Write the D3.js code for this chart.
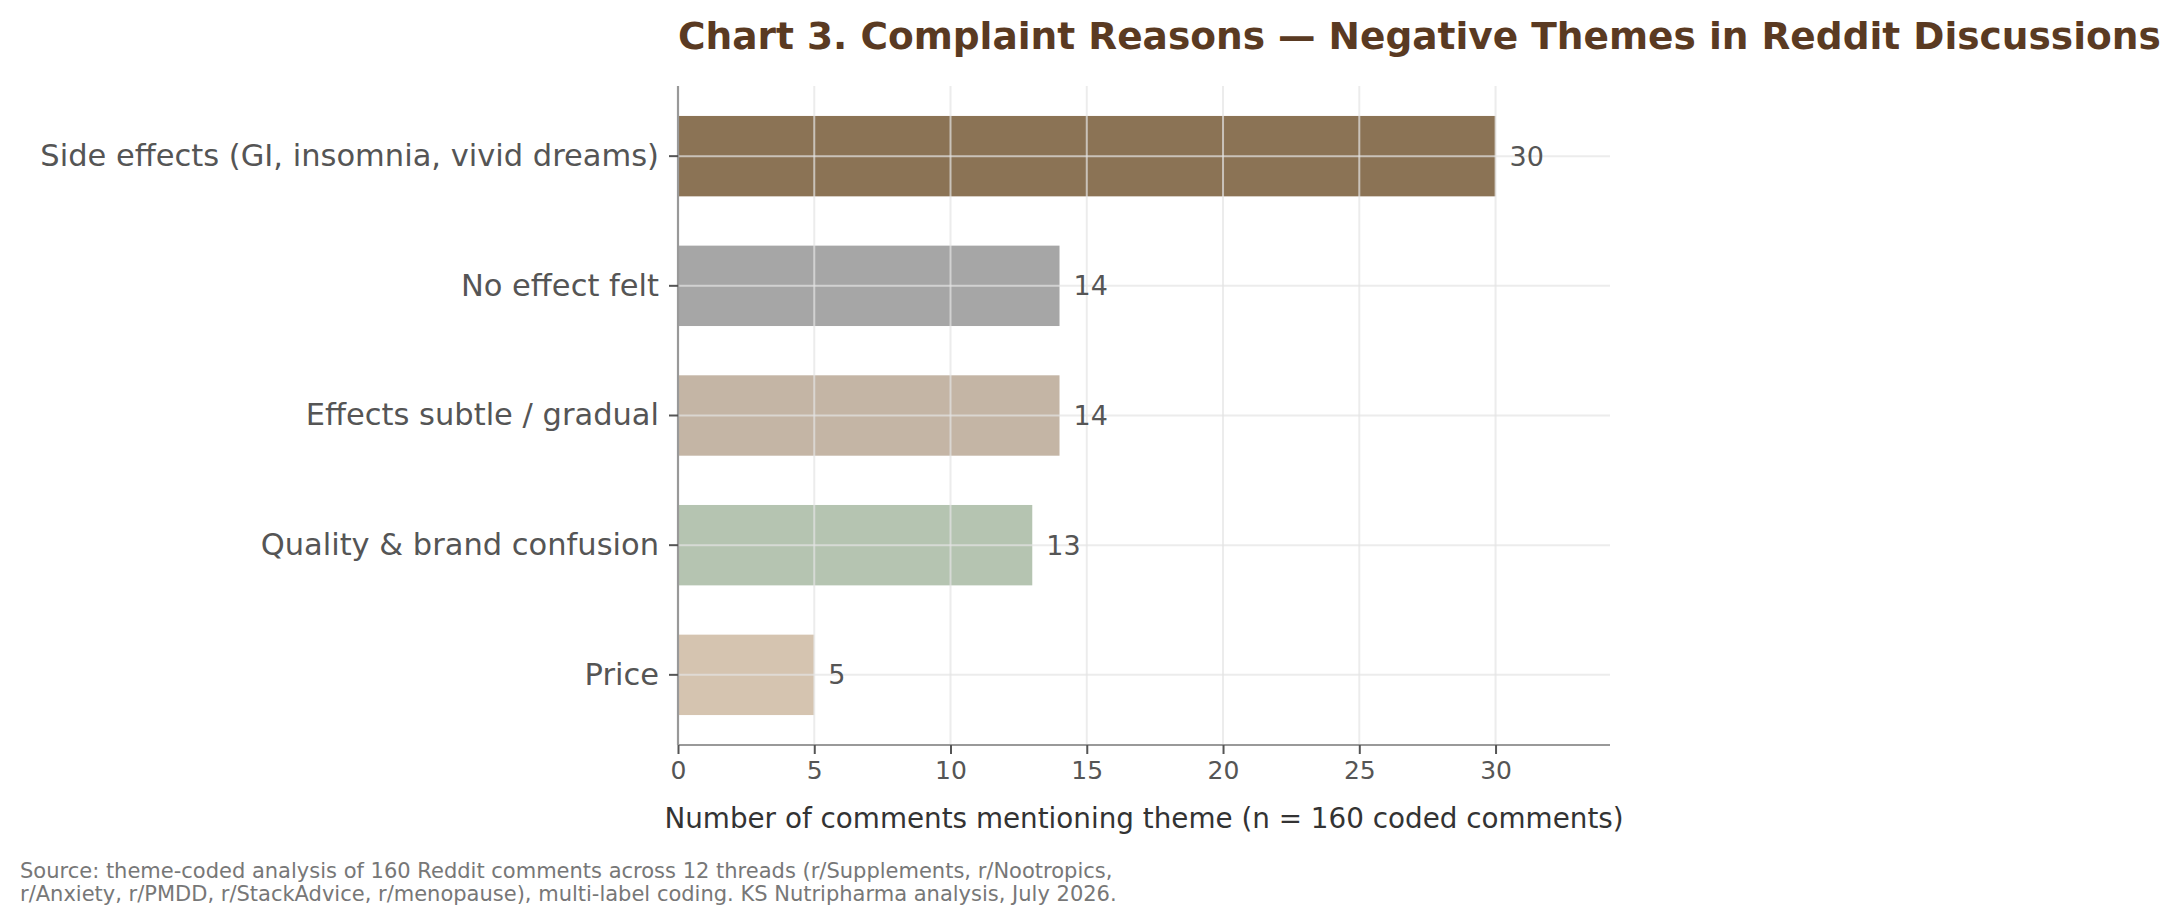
<!DOCTYPE html>
<html>
<head>
<meta charset="utf-8">
<script src="https://cdn.jsdelivr.net/npm/d3@7"></script>
<style>
  body { margin: 0; background: #fff; }
  text { font-family: "DejaVu Sans", sans-serif; }
</style>
</head>
<body>
<div id="chart"></div>
<script>
// data
const themes = [
  "Side effects (GI, insomnia, vivid dreams)",
  "No effect felt",
  "Effects subtle / gradual",
  "Quality & brand confusion",
  "Price"
];
const counts = [30, 14, 14, 13, 5];
const barColors = ["#8b7355", "#a6a6a6", "#c4b5a5", "#b5c4b1", "#d5c4b0"];
const xTicks = [0, 5, 10, 15, 20, 25, 30];

const W = 2180, H = 924;
const margin = {top: 86, right: 570, bottom: 179, left: 678};
const width = W - margin.left - margin.right,
      height = H - margin.top - margin.bottom;

const svg = d3.select("#chart")
  .append("svg")
  .attr("width", W)
  .attr("height", H);

const g = svg.append("g")
  .attr("transform", `translate(${margin.left},${margin.top})`);

const x = d3.scaleLinear()
  .domain([0, d3.max(counts) * 1.14])
  .range([0, width]);

const y = d3.scaleBand()
  .domain(themes)
  .range([0, height])
  .paddingInner(0.38)
  .paddingOuter(0.231);

// bars
g.selectAll("rect.bar")
  .data(themes)
  .join("rect")
  .attr("class", "bar")
  .attr("x", x(0))
  .attr("y", d => y(d))
  .attr("width", (d, i) => x(counts[i]) - x(0))
  .attr("height", y.bandwidth())
  .attr("fill", (d, i) => barColors[i]);

// grid drawn above bars
g.selectAll("line.vgrid")
  .data(xTicks)
  .join("line")
  .attr("class", "vgrid")
  .attr("x1", d => x(d)).attr("x2", d => x(d))
  .attr("y1", 0).attr("y2", height)
  .attr("stroke", "#e4e4e4")
  .attr("stroke-opacity", 0.7)
  .attr("stroke-width", 2);

g.selectAll("line.hgrid")
  .data(themes)
  .join("line")
  .attr("class", "hgrid")
  .attr("x1", 0).attr("x2", width)
  .attr("y1", d => y(d) + y.bandwidth() / 2)
  .attr("y2", d => y(d) + y.bandwidth() / 2)
  .attr("stroke", "#e4e4e4")
  .attr("stroke-opacity", 0.7)
  .attr("stroke-width", 2);

// value labels
g.selectAll("text.val")
  .data(themes)
  .join("text")
  .attr("class", "val")
  .attr("x", (d, i) => x(counts[i]) + 14)
  .attr("y", d => y(d) + y.bandwidth() / 2)
  .attr("dy", "0.35em")
  .attr("fill", "#555")
  .style("font-size", "27px")
  .text((d, i) => counts[i]);

// axes
const xAxis = g.append("g")
  .attr("transform", `translate(0,${height})`)
  .call(d3.axisBottom(x).tickValues(xTicks).tickSize(9).tickPadding(7));
const yAxis = g.append("g")
  .call(d3.axisLeft(y).tickSize(9).tickPadding(10));

[xAxis, yAxis].forEach(a => {
  a.select(".domain").attr("stroke", "#999").attr("stroke-width", 2.2);
  a.selectAll(".tick line").attr("stroke", "#555").attr("stroke-width", 2);
  a.selectAll(".tick text").attr("fill", "#555").style("font-family", "DejaVu Sans");
});
xAxis.selectAll(".tick text").style("font-size", "25px");
yAxis.selectAll(".tick text").style("font-size", "30.5px");
// hide the outer tick ends of the domain paths
xAxis.select(".domain").attr("d", `M0,0H${width}`);
yAxis.select(".domain").attr("d", `M0,0V${height}`);

// x label
g.append("text")
  .attr("x", width / 2)
  .attr("y", height + 83)
  .attr("text-anchor", "middle")
  .attr("fill", "#333")
  .style("font-size", "27.8px")
  .text("Number of comments mentioning theme (n = 160 coded comments)");

// title
svg.append("text")
  .attr("x", margin.left)
  .attr("y", 49)
  .attr("fill", "#5a3a22")
  .style("font-size", "37.5px")
  .style("font-weight", "bold")
  .text("Chart 3. Complaint Reasons \u2014 Negative Themes in Reddit Discussions");

// source note
const src = svg.append("text")
  .attr("x", 20)
  .attr("y", 878)
  .attr("fill", "#777")
  .style("font-size", "21px");
src.append("tspan").attr("x", 20).text("Source: theme-coded analysis of 160 Reddit comments across 12 threads (r/Supplements, r/Nootropics,");
src.append("tspan").attr("x", 20).attr("dy", 23).text("r/Anxiety, r/PMDD, r/StackAdvice, r/menopause), multi-label coding. KS Nutripharma analysis, July 2026.");
</script>
</body>
</html>
